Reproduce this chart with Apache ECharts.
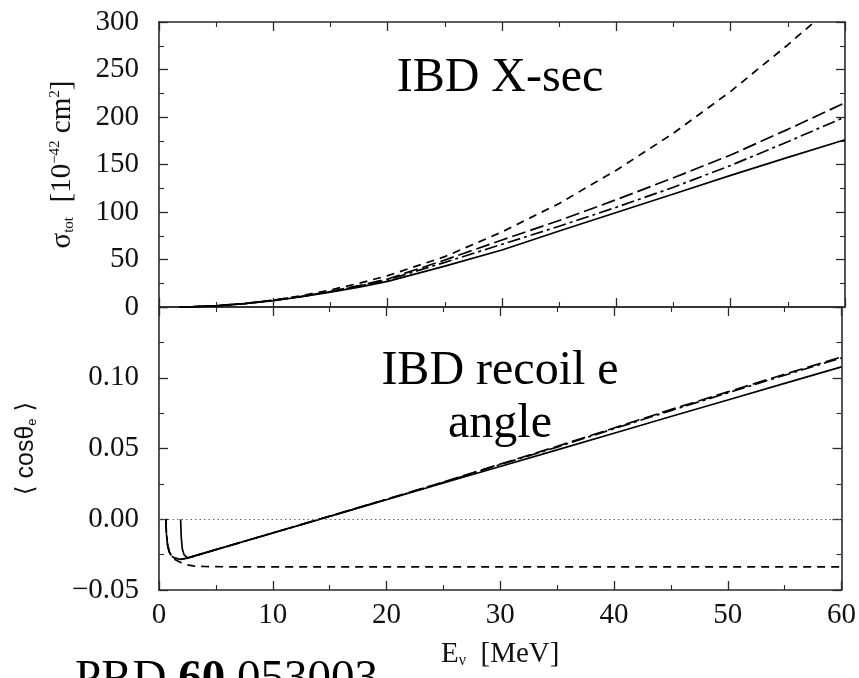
<!DOCTYPE html>
<html><head><meta charset="utf-8">
<script src="https://cdn.jsdelivr.net/npm/echarts@6/dist/echarts.min.js"></script>
<style>html,body{margin:0;padding:0;background:#fff}#c{width:859px;height:678px}</style>
</head><body><div id="c"></div>
<script>
// ---- data ----
const xTickValues = [0, 10, 20, 30, 40, 50, 60];
const sigmaTicks = [0, 50, 100, 150, 200, 250, 300];
const cosTicks = [-0.05, 0.00, 0.05, 0.10];

// top panel: total cross-section [1e-42 cm^2] vs E_nu [MeV]
const E_top = [1.8, 3, 5, 7.5, 10, 12.5, 15, 17.5, 20, 25, 30, 35, 40, 45, 50, 55, 60];
const sigmaSolid     = [0, 0.3, 1.2, 3.5, 6.8, 10.8, 15.5, 21.0, 27.0, 43.0, 60.0, 80.0, 99.5, 119.0, 138.5, 157.5, 176.0];
const sigmaDashDot   = [0, 0.3, 1.2, 3.6, 7.0, 11.1, 16.1, 22.0, 28.5, 47.0, 66.0, 85.0, 105.0, 126.0, 149.0, 174.0, 200.0];
const sigmaLongDash  = [0, 0.3, 1.3, 3.6, 7.1, 11.3, 16.4, 22.5, 29.5, 49.5, 70.5, 91.0, 113.0, 136.0, 160.0, 187.0, 215.0];
const sigmaShortDash = [0, 0.3, 1.3, 3.7, 7.2, 12.0, 18.0, 25.0, 33.0, 53.0, 79.0, 109.0, 144.0, 183.0, 227.0, 276.0, 328.0];

// bottom panel: <cos theta_e> vs E_nu
const E_botSolid = [1.9, 1.95, 2.05, 2.2, 2.5, 5, 10, 15, 20, 25, 30, 35, 40, 45, 50, 55, 60];
const cosSolid   = [0, -0.012, -0.021, -0.025, -0.0273, -0.0215, -0.0097, 0.0020, 0.0138, 0.0256, 0.0373, 0.0490, 0.0608, 0.0726, 0.0843, 0.0960, 0.1077];
const E_botDash  = [0.6, 0.65, 0.75, 0.9, 1.1, 1.4, 1.9, 2.5, 5, 10, 15, 20, 25, 30, 35, 40, 45, 50, 55, 60];
const cosLongDash = [0, -0.010, -0.018, -0.023, -0.026, -0.0275, -0.0283, -0.0275, -0.0215, -0.0097, 0.0022, 0.0142, 0.0263, 0.0390, 0.0515, 0.0645, 0.0775, 0.0900, 0.1025, 0.1147];
const cosDashDot  = [0, -0.010, -0.018, -0.023, -0.026, -0.0275, -0.0283, -0.0275, -0.0215, -0.0097, 0.0021, 0.0141, 0.0261, 0.0386, 0.0510, 0.0640, 0.0768, 0.0893, 0.1018, 0.1140];
const E_botShort = [0.6, 0.65, 0.75, 0.9, 1.1, 1.4, 1.9, 2.5, 3, 4, 6, 10, 20, 30, 40, 50, 60];
const cosShortDash = [0, -0.010, -0.018, -0.023, -0.026, -0.0285, -0.0305, -0.0322, -0.0330, -0.0334, -0.0336, -0.0336, -0.0336, -0.0336, -0.0336, -0.0336, -0.0336];

// ---- helpers ----
const pair = (xs, ys) => xs.map((x, i) => [x, ys[i]]);
const SERIF = 'Liberation Serif, Times New Roman, serif';
const SANS = 'Liberation Sans, Arial, DejaVu Sans, sans-serif';
const AX = '#2a2a2a';

function xAx(grid, pos, showLabels, extra) {
  return Object.assign({
    type: 'value', gridIndex: grid, position: pos, min: 0, max: 60, interval: 10,
    axisLine: { show: true, onZero: false, lineStyle: { color: AX, width: 1.6 } },
    axisTick: { show: true, inside: true, length: 9, lineStyle: { color: AX, width: 1.3 } },
    minorTick: { show: true, splitNumber: 2, length: 5, lineStyle: { color: AX, width: 1.1 } },
    axisLabel: { show: showLabels, fontFamily: SERIF, fontSize: 29, color: '#111', margin: 11 },
    splitLine: { show: false }
  }, extra || {});
}
function yAx(grid, pos, min, max, interval, showLabels, extra) {
  return Object.assign({
    type: 'value', gridIndex: grid, position: pos, min: min, max: max, interval: interval,
    axisLine: { show: true, onZero: false, lineStyle: { color: AX, width: 1.6 } },
    axisTick: { show: true, inside: true, length: 9, lineStyle: { color: AX, width: 1.3 } },
    minorTick: { show: true, splitNumber: 2, length: 5, lineStyle: { color: AX, width: 1.1 } },
    axisLabel: { show: showLabels, fontFamily: SERIF, fontSize: 29, color: '#111', margin: 20 },
    splitLine: { show: false }
  }, extra || {});
}

const chart = echarts.init(document.getElementById('c'), null, { renderer: 'canvas' });
const lineBase = (name, data, xi, yi, type) => ({
  name: name, type: 'line', xAxisIndex: xi, yAxisIndex: yi, data: data,
  showSymbol: false, symbol: 'none', smooth: false, clip: true, animation: false,
  lineStyle: { color: '#000', width: 1.7, type: type }
});

const option = {
  animation: false,
  backgroundColor: '#fff',
  grid: [
    { left: 159, right: 14, top: 22, height: 285 },
    { left: 159, right: 14, top: 307, height: 283 }
  ],
  xAxis: [
    xAx(0, 'bottom', false),
    xAx(0, 'top', false),
    xAx(1, 'bottom', true, {
      name: 'E{sub|\u03bd}  [MeV]', nameLocation: 'middle', nameGap: 50,
      nameTextStyle: { fontFamily: SERIF, fontSize: 29, color: '#111',
        rich: { sub: { fontFamily: SERIF, fontSize: 16, verticalAlign: 'bottom', color: '#111' } } }
    }),
    xAx(1, 'top', false)
  ],
  yAxis: [
    yAx(0, 'left', 0, 300, 50, true, {
      name: '\u03c3{sub|tot}  [10{sup|\u221242} cm{sup|2}]', nameLocation: 'middle', nameGap: 82, nameRotate: 90,
      nameTextStyle: { fontFamily: SERIF, fontSize: 29, color: '#111',
        rich: {
          sub: { fontFamily: SERIF, fontSize: 15, verticalAlign: 'bottom', color: '#111' },
          sup: { fontFamily: SERIF, fontSize: 15, verticalAlign: 'top', color: '#111' }
        } }
    }),
    yAx(0, 'right', 0, 300, 50, false),
    yAx(1, 'left', -0.05, 0.15, 0.05, true, {
      axisLabel: { show: true, fontFamily: SERIF, fontSize: 29, color: '#111', margin: 20, showMaxLabel: false,
        formatter: v => (v < 0 ? '\u2212' : '') + Math.abs(v).toFixed(2) },
      name: '\u27e8 cos\u03b8{sub|e} \u27e9', nameLocation: 'middle', nameGap: 120, nameRotate: 90,
      nameTextStyle: { fontFamily: SANS, fontSize: 25, color: '#111',
        rich: { sub: { fontFamily: SANS, fontSize: 13, verticalAlign: 'bottom', color: '#111' } } }
    }),
    yAx(1, 'right', -0.05, 0.15, 0.05, false)
  ],
  series: [
    lineBase('solid', pair(E_top, sigmaSolid), 0, 0, 'solid'),
    lineBase('dashdot', pair(E_top, sigmaDashDot), 0, 0, [13, 4, 3, 4]),
    lineBase('longdash', pair(E_top, sigmaLongDash), 0, 0, [14, 5]),
    lineBase('shortdash', pair(E_top, sigmaShortDash), 0, 0, [8, 6]),
    Object.assign(lineBase('cos solid', pair(E_botSolid, cosSolid), 2, 2, 'solid'), {
      markLine: { silent: true, symbol: 'none', label: { show: false }, animation: false,
        lineStyle: { color: '#666', width: 1, type: [1.5, 3] }, data: [{ yAxis: 0 }] }
    }),
    lineBase('cos dashdot', pair(E_botDash, cosDashDot), 2, 2, [13, 4, 3, 4]),
    lineBase('cos longdash', pair(E_botDash, cosLongDash), 2, 2, [14, 5]),
    lineBase('cos shortdash', pair(E_botShort, cosShortDash), 2, 2, [8, 6])
  ],
  graphic: [
    { type: 'text', x: 500, y: 78, silent: true,
      style: { text: 'IBD X-sec', fontFamily: SERIF, fontSize: 48, fill: '#000', align: 'center', verticalAlign: 'middle' } },
    { type: 'text', x: 500, y: 371, silent: true,
      style: { text: 'IBD recoil e', fontFamily: SERIF, fontSize: 48, fill: '#000', align: 'center', verticalAlign: 'middle' } },
    { type: 'text', x: 500, y: 424, silent: true,
      style: { text: 'angle', fontFamily: SERIF, fontSize: 48, fill: '#000', align: 'center', verticalAlign: 'middle' } },
    { type: 'text', x: 75, y: 680, silent: true,
      style: { text: 'PRD {b|60} 053003', fontFamily: SERIF, fontSize: 47, fill: '#000', align: 'left', verticalAlign: 'middle',
        rich: { b: { fontFamily: SERIF, fontSize: 47, fontWeight: 'bold', fill: '#000' } } } }
  ]
};
chart.setOption(option);
</script>
</body></html>
